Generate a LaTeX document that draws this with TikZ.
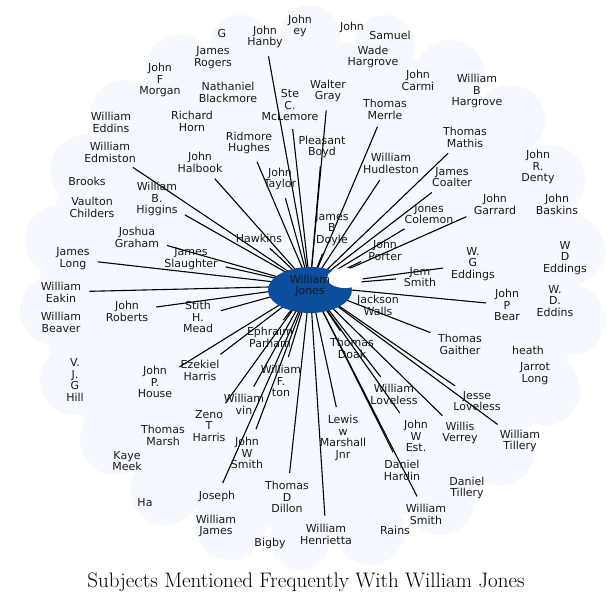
\documentclass[tikz,border=0pt]{standalone}
\usepackage{fontspec}
\setsansfont{DejaVu Sans}
\pgfdeclarelayer{cloud}
\pgfdeclarelayer{edges}
\pgfsetlayers{cloud,edges,main}
\definecolor{cloudc}{HTML}{F5F9FF}
\definecolor{hubc}{HTML}{0B4F9C}
\begin{document}
\begin{tikzpicture}[x=1pt,y=-1pt,
  lbl/.style={font=\sffamily\fontsize{11}{11.8}\selectfont,align=center,inner sep=1pt,text=black!90},
  spoke/.style={black,line width=1.1pt,shorten >=7pt}]
\useasboundingbox (0,0) rectangle (615,605);
\begin{pgfonlayer}{cloud}
\fill[white] (0,0) rectangle (615,605);
\fill[cloudc] (310,285) ellipse [x radius=270,y radius=245];
\foreach \x/\y/\r in {240/45/30,310/35/30,385/45/30,450/75/35,510/120/35,550/180/35,570/250/35,570/320/35,545/390/35,500/450/35,440/500/35,370/530/35,300/540/30,230/525/35,165/490/35,115/440/35,75/380/35,55/310/35,60/240/35,85/170/35,125/115/35,180/70/35}
  \fill[cloudc] (\x,\y) circle [radius=\r];
\end{pgfonlayer}
\fill[hubc] (310,290) ellipse [x radius=42,y radius=23];
\fill[white] (345,278) ellipse [x radius=18,y radius=10];
\node[lbl] (c) at (310,286) {William\\Jones};
\node[lbl] (n1) at (222,33) {G};
\node[lbl] (n2) at (265,37) {John\\Hanby};
\node[lbl] (n3) at (300,26) {John\\ey};
\node[lbl] (n4) at (213,58) {James\\Rogers};
\node[lbl] (n5) at (160,80) {John\\F\\Morgan};
\node[lbl] (n6) at (228,92) {Nathaniel\\Blackmore};
\node[lbl] (n7) at (290,105) {Ste\\C.\\McLemore};
\node[lbl] (n8) at (328,91) {Walter\\Gray};
\node[lbl] (n9) at (373,57) {Wade\\Hargrove};
\node[lbl] (n10) at (390,35) {Samuel};
\node[lbl] (n11) at (352,27) {John};
\node[lbl] (n12) at (418,80) {John\\Carmi};
\node[lbl] (n13) at (385,109) {Thomas\\Merrle};
\node[lbl] (n14) at (477,91) {William\\B\\Hargrove};
\node[lbl] (n15) at (465,137) {Thomas\\Mathis};
\node[lbl] (n16) at (322,147) {Pleasant\\Boyd};
\node[lbl] (n17) at (391,163) {William\\Hudleston};
\node[lbl] (n18) at (452,177) {James\\Coalter};
\node[lbl] (n19) at (538,167) {John\\R.\\Denty};
\node[lbl] (n20) at (495,204) {John\\Garrard};
\node[lbl] (n21) at (557,204) {John\\Baskins};
\node[lbl] (n22) at (429,214) {Jones\\Colemon};
\node[lbl] (n23) at (385,250) {John\\Porter};
\node[lbl] (n24) at (420,277) {Jem\\Smith};
\node[lbl] (n25) at (473,264) {W.\\G\\Eddings};
\node[lbl] (n26) at (565,258) {W\\D\\Eddings};
\node[lbl] (n27) at (555,301) {W.\\D.\\Eddins};
\node[lbl] (n28) at (507,305) {John\\P\\Bear};
\node[lbl] (n29) at (378,305) {Jackson\\Walls};
\node[lbl] (n30) at (352,348) {Thomas\\Doak};
\node[lbl] (n31) at (460,344) {Thomas\\Gaither};
\node[lbl] (n32) at (528,350) {heath};
\node[lbl] (n33) at (535,374) {Jarrot\\Long};
\node[lbl] (n34) at (477,401) {Jesse\\Loveless};
\node[lbl] (n35) at (394,394) {William\\Loveless};
\node[lbl] (n36) at (416,436) {John\\W\\Est.};
\node[lbl] (n37) at (460,433) {Willis\\Verrey};
\node[lbl] (n38) at (520,441) {William\\Tillery};
\node[lbl] (n39) at (343,438) {Lewis\\w\\Marshall\\Jnr};
\node[lbl] (n40) at (402,470) {Daniel\\Hardin};
\node[lbl] (n41) at (467,488) {Daniel\\Tillery};
\node[lbl] (n42) at (426,514) {William\\Smith};
\node[lbl] (n43) at (326,534) {William\\Henrietta};
\node[lbl] (n44) at (287,497) {Thomas\\D\\Dillon};
\node[lbl] (n45) at (216,526) {William\\James};
\node[lbl] (n46) at (217,496) {Joseph};
\node[lbl] (n47) at (209,426) {Zeno\\T\\Harris};
\node[lbl] (n48) at (281,381) {William\\F.\\ton};
\node[lbl] (n49) at (244,404) {William\\vin};
\node[lbl] (n50) at (247,453) {John\\W\\Smith};
\node[lbl] (n51) at (163,435) {Thomas\\Marsh};
\node[lbl] (n52) at (127,461) {Kaye\\Meek};
\node[lbl] (n53) at (200,370) {Ezekiel\\Harris};
\node[lbl] (n54) at (155,382) {John\\P.\\House};
\node[lbl] (n55) at (75,380) {V.\\J.\\G\\Hill};
\node[lbl] (n56) at (198,317) {Stith\\H.\\Mead};
\node[lbl] (n57) at (127,311) {John\\Roberts};
\node[lbl] (n58) at (61,322) {William\\Beaver};
\node[lbl] (n59) at (61,292) {William\\Eakin};
\node[lbl] (n60) at (73,259) {James\\Long};
\node[lbl] (n61) at (270,337) {Ephraim\\Parham};
\node[lbl] (n62) at (191,259) {James\\Slaughter};
\node[lbl] (n63) at (137,237) {Joshua\\Graham};
\node[lbl] (n64) at (157,199) {William\\B.\\Higgins};
\node[lbl] (n65) at (92,207) {Vaulton\\Childers};
\node[lbl] (n66) at (87,181) {Brooks};
\node[lbl] (n67) at (110,152) {William\\Edmiston};
\node[lbl] (n68) at (111,122) {William\\Eddins};
\node[lbl] (n69) at (192,121) {Richard\\Horn};
\node[lbl] (n70) at (200,162) {John\\Halbook};
\node[lbl] (n71) at (249,143) {Ridmore\\Hughes};
\node[lbl] (n72) at (280,179) {John\\Taylor};
\node[lbl] (n73) at (259,238) {Hawkins};
\node[lbl] (n74) at (332,229) {James\\B\\Doyle};
\node[lbl] (n75) at (145,503) {Ha};
\node[lbl] (n76) at (270,543) {Bigby};
\node[lbl] (n77) at (395,530) {Rains};
\begin{pgfonlayer}{edges}
\foreach \n in {n2,n7,n8,n13,n15,n16,n17,n18,n20,n22,n23,n24,n25,n28,n29,n30,n31,n34,n35,n36,n37,n38,n39,n40,n42,n43,n44,n46,n47,n48,n49,n50,n53,n54,n56,n57,n59,n60,n61,n62,n63,n64,n67,n70,n71,n72,n73,n74}
  \draw[spoke] (c) -- (\n);
\end{pgfonlayer}
\node[font=\fontsize{21}{24}\selectfont] (t) at (306,582) {Subjects Mentioned Frequently With William Jones};
\end{tikzpicture}
\end{document}
